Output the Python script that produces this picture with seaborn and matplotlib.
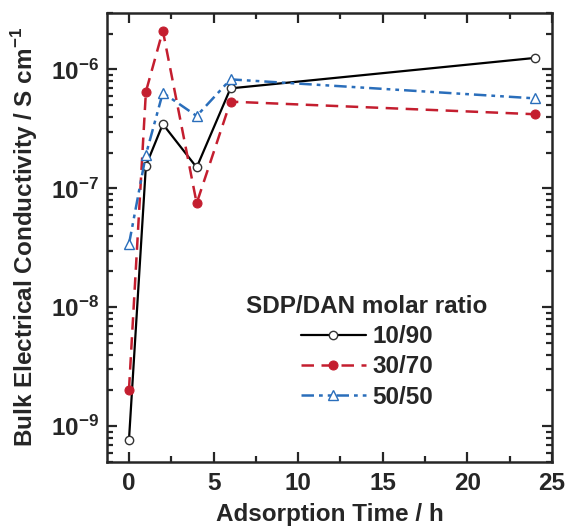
import numpy as np
import pandas as pd
import matplotlib
matplotlib.use('Agg')
import matplotlib.pyplot as plt
import matplotlib.ticker as mticker
import seaborn as sns

# Données
temps = [0, 1, 2, 4, 6, 24]
cond_10_90 = [7.7e-10, 1.55e-7, 3.47e-7, 1.50e-7, 6.93e-7, 1.25e-6]
cond_30_70 = [2.03e-9, 6.50e-7, 2.12e-6, 7.50e-8, 5.36e-7, 4.20e-7]
cond_50_50 = [3.4e-8, 1.92e-7, 6.37e-7, 4.06e-7, 8.25e-7, 5.71e-7]
series = ['10/90', '30/70', '50/50']
x_ticks = [0, 5, 10, 15, 20, 25]
y_ticks = [1e-9, 1e-8, 1e-7, 1e-6]
y_labels = [r'$\mathbf{10^{-9}}$', r'$\mathbf{10^{-8}}$', r'$\mathbf{10^{-7}}$', r'$\mathbf{10^{-6}}$']

df = pd.DataFrame({
    'temps': temps * 3,
    'cond': cond_10_90 + cond_30_70 + cond_50_50,
    'ratio': [s for s in series for _ in temps],
})

sns.set_style("ticks")
plt.rcParams['font.family'] = ['Liberation Sans', 'DejaVu Sans']
plt.rcParams['font.weight'] = 'bold'
plt.rcParams['mathtext.fontset'] = 'custom'
plt.rcParams['mathtext.bf'] = 'Liberation Sans:bold'
plt.rcParams['mathtext.rm'] = 'Liberation Sans:bold'

fs = 17.5

fig = plt.figure(figsize=(5.67, 5.29), dpi=100)
ax = fig.add_axes([0.1887, 0.1267, 0.7848, 0.8493])

styles = {
    '10/90': dict(color='black', linestyle='-', linewidth=1.6, marker='o', markersize=6,
                  markerfacecolor='white', markeredgecolor='#333333', markeredgewidth=1.0),
    '30/70': dict(color='#c41e2f', linestyle=(0, (5, 3)), linewidth=1.8, marker='o', markersize=6.5,
                  markerfacecolor='#c41e2f', markeredgecolor='#c41e2f'),
    '50/50': dict(color='#2a6ebb', linestyle=(0, (5, 2, 1.5, 2, 1.5, 2)), linewidth=1.8, marker='^',
                  markersize=7, markerfacecolor='white', markeredgecolor='#2a6ebb', markeredgewidth=1.0),
}

for s in series:
    d = df[df['ratio'] == s]
    sns.lineplot(data=d, x='temps', y='cond', ax=ax, label=s, estimator=None, sort=False, **styles[s])

ax.set_yscale('log')
ax.set_xlim(-1.3, 25)
ax.set_ylim(5e-10, 3e-6)
ax.set_xticks(x_ticks)
ax.set_xticklabels([str(t) for t in x_ticks])
ax.xaxis.set_minor_locator(mticker.MultipleLocator(2.5))
ax.set_yticks(y_ticks)
ax.set_yticklabels(y_labels)
ax.yaxis.set_minor_locator(mticker.LogLocator(base=10, subs=np.arange(2, 10), numticks=20))
ax.yaxis.set_minor_formatter(mticker.NullFormatter())

ax.tick_params(which='both', direction='in', top=True, right=True, width=1.6, labelsize=fs)
ax.tick_params(which='major', length=7, pad=6)
ax.tick_params(axis='x', which='major', pad=7)
ax.tick_params(which='minor', length=4)
for sp in ax.spines.values():
    sp.set_linewidth(1.8)

ax.set_xlabel('Adsorption Time / h', fontsize=fs, fontweight='bold', labelpad=6)
ax.set_ylabel(r'Bulk Electrical Conductivity / S cm$^{\mathbf{-1}}$', fontsize=fs, fontweight='bold',
              labelpad=8)

leg = ax.legend(title='SDP/DAN molar ratio', loc='upper center', bbox_to_anchor=(0.584, 0.372),
                borderaxespad=0, borderpad=0, frameon=False, fontsize=fs, title_fontsize=fs,
                handlelength=2.7, labelspacing=0.3, handletextpad=0.25)
leg.get_title().set_fontweight('bold')
for t in leg.get_texts():
    t.set_fontweight('bold')

fig.savefig('out.png', dpi=100)
